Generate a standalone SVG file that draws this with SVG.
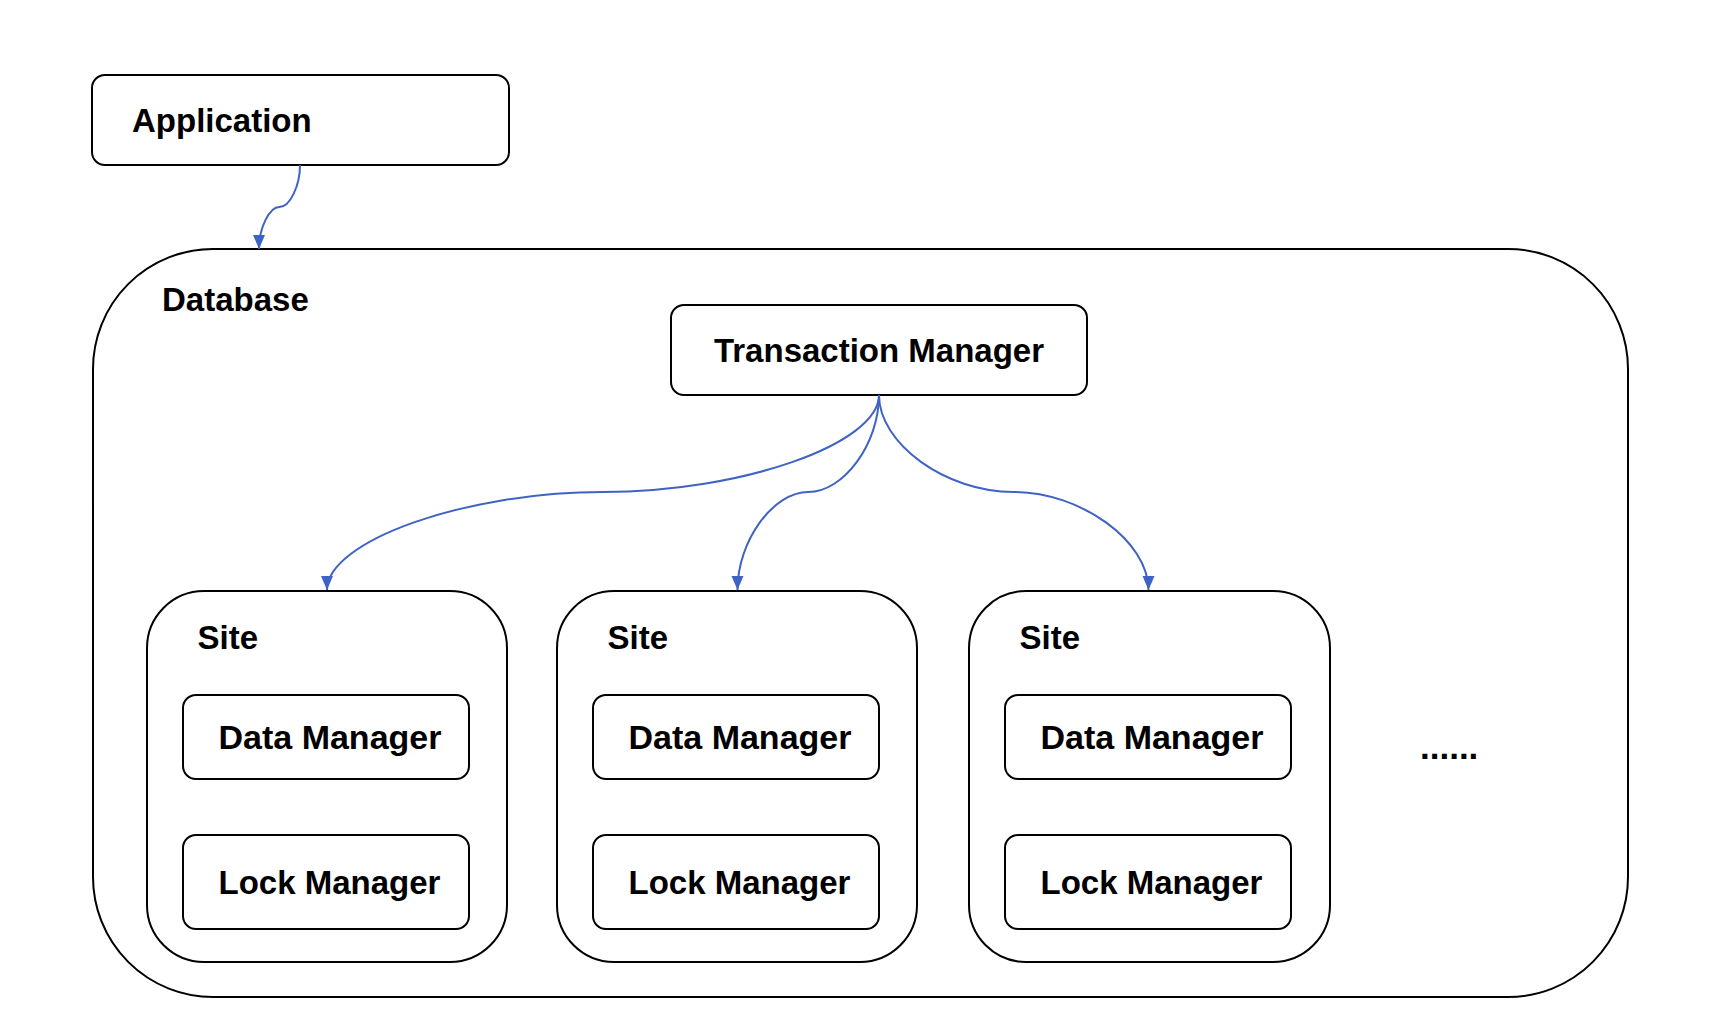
<svg xmlns="http://www.w3.org/2000/svg" width="1714" height="1036" viewBox="0 0 1714 1036">
<style>
  .box { fill: #ffffff; stroke: #000000; stroke-width: 2; }
  .lbl { font-family: "Liberation Sans", Arial, sans-serif; font-weight: bold; font-size: 33px; fill: #000000; }
  .dm { font-size: 34px; }
  .conn { fill: none; stroke: #3f63c4; stroke-width: 2; marker-end: url(#arrow); }
</style>
<defs>
  <marker id="arrow" markerUnits="userSpaceOnUse" markerWidth="16" markerHeight="14" refX="14" refY="6" orient="auto">
    <path d="M0,0 L14,6 L0,12 z" fill="#3f63c4"/>
  </marker>
</defs>
<rect width="1714" height="1036" fill="#ffffff"/>

<g id="database">
  <rect class="box" x="93" y="249" width="1535" height="748" rx="120" ry="120"/>
  <text class="lbl" x="162" y="311">Database</text>
</g>

<g id="application">
  <rect class="box" x="92" y="75" width="417" height="90" rx="13" ry="13"/>
  <text class="lbl" x="132" y="132">Application</text>
</g>

<g id="transaction-manager">
  <rect class="box" x="671" y="305" width="416" height="90" rx="13" ry="13"/>
  <text class="lbl" x="879" y="362" text-anchor="middle">Transaction Manager</text>
</g>

<g id="site1">
  <rect class="box" x="147" y="591" width="360" height="371" rx="57" ry="57"/>
  <text class="lbl" x="197.5" y="649">Site</text>
  <g id="site1-data-manager">
    <rect class="box" x="183" y="695" width="286" height="84" rx="13" ry="13"/>
    <text class="lbl dm" x="218.5" y="748.5">Data Manager</text>
  </g>
  <g id="site1-lock-manager">
    <rect class="box" x="183" y="835" width="286" height="94" rx="13" ry="13"/>
    <text class="lbl" x="218.5" y="894">Lock Manager</text>
  </g>
</g>

<g id="site2">
  <rect class="box" x="557" y="591" width="360" height="371" rx="57" ry="57"/>
  <text class="lbl" x="607.5" y="649">Site</text>
  <g id="site2-data-manager">
    <rect class="box" x="593" y="695" width="286" height="84" rx="13" ry="13"/>
    <text class="lbl dm" x="628.5" y="748.5">Data Manager</text>
  </g>
  <g id="site2-lock-manager">
    <rect class="box" x="593" y="835" width="286" height="94" rx="13" ry="13"/>
    <text class="lbl" x="628.5" y="894">Lock Manager</text>
  </g>
</g>

<g id="site3">
  <rect class="box" x="969" y="591" width="361" height="371" rx="57" ry="57"/>
  <text class="lbl" x="1019.5" y="649">Site</text>
  <g id="site3-data-manager">
    <rect class="box" x="1005" y="695" width="286" height="84" rx="13" ry="13"/>
    <text class="lbl dm" x="1040.5" y="748.5">Data Manager</text>
  </g>
  <g id="site3-lock-manager">
    <rect class="box" x="1005" y="835" width="286" height="94" rx="13" ry="13"/>
    <text class="lbl" x="1040.5" y="894">Lock Manager</text>
  </g>
</g>

<g id="more">
  <text class="lbl" x="1420" y="759" style="font-size:35px">......</text>
</g>

<g id="connectors">
  <path class="conn" d="M300,165 C300,186 289.8,207 279.5,207 C269.3,207 259,228 259,249"/>
  <path class="conn" d="M879,395 C879,444 741,492 603,492 C465,492 327,541 327,590"/>
  <path class="conn" d="M879,395 C879,444 843.6,492 808.3,492 C773,492 737.5,541 737.5,590"/>
  <path class="conn" d="M879,395 C879,444 946,492 1013.5,492 C1081,492 1148.5,541 1148.5,590"/>
</g>
</svg>
